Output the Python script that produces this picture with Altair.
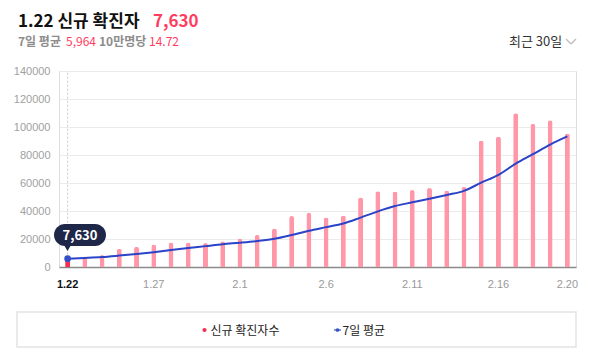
import altair as alt
import pandas as pd

dates = ["1.22", "1.23", "1.24", "1.25", "1.26", "1.27", "1.28", "1.29", "1.30", "1.31",
         "2.1", "2.2", "2.3", "2.4", "2.5", "2.6", "2.7", "2.8", "2.9", "2.10",
         "2.11", "2.12", "2.13", "2.14", "2.15", "2.16", "2.17", "2.18", "2.19", "2.20"]
cases = [7630, 7513, 8571, 13012, 14518, 16096, 17542, 17528, 17079, 18342,
         20270, 22907, 27443, 36362, 38691, 35286, 36719, 49567, 54122, 53926,
         54941, 56431, 54619, 57177, 90443, 93135, 109831, 102211, 104829, 95362]
avg7 = [5964, 6486, 7128, 8158, 9289, 10621, 12126, 13540, 14907, 16302,
        17339, 18538, 20159, 22847, 25871, 28472, 31097, 35282, 39741, 43525,
        46179, 48713, 51475, 54398, 60237, 65810, 73797, 80550, 87464, 93284]
x_ticks = ["1.22", "1.27", "2.1", "2.6", "2.11", "2.16", "2.20"]
y_ticks = [0, 20000, 40000, 60000, 80000, 100000, 120000, 140000]
sel_date = "1.22"
sel_cases = 7630
sel_avg = 5964
per100k = "14.72"

FONT = "Noto Sans CJK KR"
PINK = "#ff97a8"
RED = "#f5304f"
BLUE = "#2a43c9"

df = pd.DataFrame({"date": dates, "cases": cases, "avg": avg7})
sel = pd.DataFrame({"date": [sel_date], "cases": [sel_cases], "avg": [sel_avg], "top": [y_ticks[-1]]})

xscale = alt.Scale(domain=dates, paddingInner=0, paddingOuter=0)
yscale = alt.Scale(domain=[0, y_ticks[-1]], nice=False)

xaxis = alt.Axis(values=x_ticks, title=None, labelAngle=0, ticks=False, grid=False,
                 domainColor="#8a8a8a", domainWidth=1.5, labelPadding=11,
                 labelFontSize=11, labelFont="Liberation Sans",
                 labelColor={"expr": "datum.value == '1.22' ? '#111111' : '#999999'"},
                 labelFontWeight={"expr": "datum.value == '1.22' ? 'bold' : 'normal'"},
                 labelOverlap=False)
yaxis = alt.Axis(values=y_ticks, title=None, ticks=False, domain=False, format="d",
                 gridColor="#ebebeb", labelColor="#a0a0a0", labelFontSize=11,
                 labelFont="Liberation Sans", labelPadding=9, labelOverlap=False,
                 tickCount=8)


def X():
    return alt.X("date:O", sort=dates, scale=xscale, axis=xaxis)


def Y(field):
    return alt.Y(field, scale=yscale, axis=yaxis)


bars = alt.Chart(df).mark_bar(size=5, cornerRadiusTopLeft=2.5, cornerRadiusTopRight=2.5).encode(
    x=X(), y=Y("cases:Q"),
    color=alt.condition(f"datum.date == '{sel_date}'", alt.value(RED), alt.value(PINK)),
)

line = alt.Chart(df).mark_line(color=BLUE, strokeWidth=2, interpolate="monotone").encode(
    x=X(), y=Y("avg:Q"),
)

rule = alt.Chart(sel).mark_rule(color="#cccccc", strokeDash=[2, 2], strokeWidth=1).encode(
    x=X(), y=Y("avg:Q"), y2="top:Q",
)

dot = alt.Chart(sel).mark_point(filled=True, color="#3450c8", size=45, opacity=1).encode(
    x=X(), y=Y("avg:Q"),
)

one = pd.DataFrame({"k": [0]})

bubble = alt.Chart(one).mark_rect(color="#1e2748", cornerRadius=11).encode(
    x=alt.value(-5), x2=alt.value(47), y=alt.value(153), y2=alt.value(175))
pointer = alt.Chart(one).mark_point(shape="triangle-down", filled=True, color="#1e2748",
                                    size=50, opacity=1).encode(x=alt.value(8.5), y=alt.value(177))
bubble_text = alt.Chart(sel).mark_text(font=FONT, fontSize=13, fontWeight="bold", color="white",
                                       align="center", baseline="alphabetic").encode(
    text=alt.Text("cases:Q", format=","), x=alt.value(21), y=alt.value(169))


def txt(s, x, y, size, color, weight="normal", align="left"):
    return alt.Chart(pd.DataFrame({"t": [s]})).mark_text(
        font=FONT, fontSize=size, color=color, fontWeight=weight, align=align,
        baseline="alphabetic").encode(text="t:N", x=alt.value(x), y=alt.value(y))


title1 = txt(f"{sel_date} 신규 확진자", -41, -44, 17, "#111111", "bold")
title2 = txt(f"{sel_cases:,}", 94, -44, 17, "#ff3d5f", "bold")
sub1 = txt("7일 평균", -41, -25, 12, "#8c8c8c", "bold")
sub2 = txt(f"{sel_avg:,}", 7, -25, 12, "#ff3d5f")
sub3 = txt("10만명당", 40, -25, 12, "#8c8c8c", "bold")
sub4 = txt(per100k, 90, -25, 12, "#ff3d5f")
recent = txt("최근 30일", 450, -25, 13, "#333333")

chev1 = alt.Chart(one).mark_rule(color="#bbbbbb", strokeWidth=1.2).encode(
    x=alt.value(507), x2=alt.value(512), y=alt.value(-32), y2=alt.value(-27))
chev2 = alt.Chart(one).mark_rule(color="#bbbbbb", strokeWidth=1.2).encode(
    x=alt.value(512), x2=alt.value(517), y=alt.value(-27), y2=alt.value(-32))

box = alt.Chart(one).mark_rect(fill="white", stroke="#e3e3e3", strokeWidth=1.5).encode(
    x=alt.value(-42), x2=alt.value(517), y=alt.value(241), y2=alt.value(276))

leg_dot1 = alt.Chart(one).mark_point(filled=True, color=RED, size=18, opacity=1).encode(
    x=alt.value(145.5), y=alt.value(259))
leg_txt1 = txt("신규 확진자수", 151.5, 263.5, 12, "#222222")
leg_line = alt.Chart(one).mark_rule(color="#8a9ae0", strokeWidth=2).encode(
    x=alt.value(275), x2=alt.value(282), y=alt.value(259))
leg_dot2 = alt.Chart(one).mark_point(filled=True, color="#3450c8", size=14, opacity=1).encode(
    x=alt.value(278.5), y=alt.value(259))
leg_txt2 = txt("7일 평균", 283.5, 263.5, 12, "#222222")

chart = alt.layer(
    bars, line, rule, dot, bubble, pointer, bubble_text,
    title1, title2, sub1, sub2, sub3, sub4, recent, chev1, chev2,
    box, leg_dot1, leg_txt1, leg_line, leg_dot2, leg_txt2,
).properties(
    width=517, height=196,
    autosize=alt.AutoSizeParams(type="none"),
    padding={"left": 51, "top": 63, "right": 15, "bottom": 85},
).configure_view(stroke=None).configure(font=FONT, background="white")

chart.save("out.html", embed_options={"renderer": "svg", "actions": False})
